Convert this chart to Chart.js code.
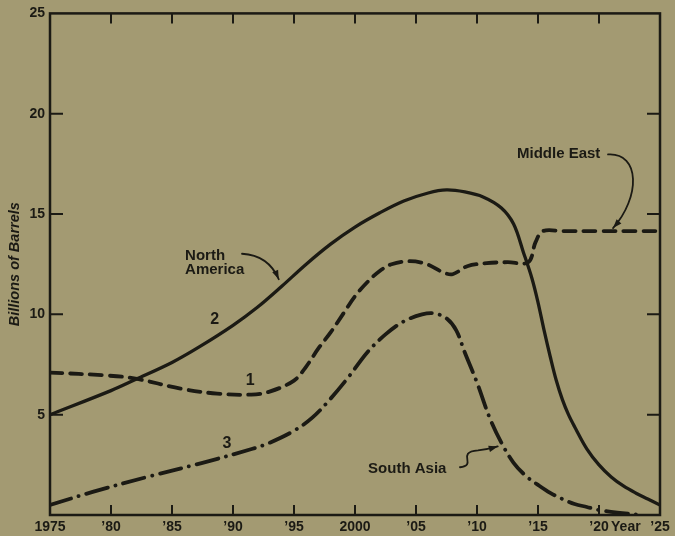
<!DOCTYPE html>
<html>
<head>
<meta charset="utf-8">
<script src="https://cdn.jsdelivr.net/npm/chart.js@4.4.1/dist/chart.umd.min.js"></script>
<style>
  html, body { margin: 0; padding: 0; background: #a39a72; }
  canvas { display: block; }
</style>
</head>
<body>
<canvas id="oil" width="675" height="536"></canvas>
<script>
// Projected production by region, billions of barrels
const northAmericaYears  = [1975, 1980, 1982, 1985, 1987.3, 1990, 1992, 1994, 1996, 1998, 2000, 2002, 2004, 2006, 2007.5, 2009, 2010.5, 2012, 2013, 2013.8, 2014.5, 2015, 2015.5, 2016, 2016.5, 2017, 2017.5, 2018, 2019, 2020, 2021, 2022, 2023, 2024, 2025];
const northAmericaValues = [5.0, 6.2, 6.75, 7.6, 8.4, 9.45, 10.35, 11.4, 12.5, 13.5, 14.35, 15.05, 15.65, 16.05, 16.2, 16.1, 15.85, 15.3, 14.5, 13.1, 11.8, 10.6, 9.2, 7.9, 6.7, 5.75, 5.0, 4.4, 3.3, 2.5, 1.9, 1.45, 1.1, 0.8, 0.5];

const middleEastYears  = [1975, 1979.7, 1982, 1985.7, 1988.7, 1991.5, 1993, 1995, 1996, 1997, 1998, 1999, 2000, 2001, 2002, 2003, 2004.5, 2005.9, 2007.2, 2008, 2009.2, 2010.8, 2012.5, 2014.2, 2014.8, 2015.4, 2017, 2020, 2023, 2025];
const middleEastValues = [7.1, 6.95, 6.8, 6.3, 6.05, 6.0, 6.15, 6.7, 7.4, 8.3, 9.1, 10.0, 10.9, 11.6, 12.15, 12.5, 12.65, 12.5, 12.1, 12.0, 12.4, 12.55, 12.6, 12.6, 13.6, 14.15, 14.15, 14.15, 14.15, 14.15];

const southAsiaYears  = [1975, 1978.5, 1983, 1987.5, 1991.6, 1993, 1995, 1996.5, 1998, 1999.5, 2001, 2002.5, 2004, 2005.5, 2006.5, 2007.5, 2008.3, 2009, 2010, 2011, 2012, 2013, 2014, 2015, 2016, 2017, 2018, 2019, 2020, 2021.5, 2023.5];
const southAsiaValues = [0.5, 1.15, 1.9, 2.6, 3.3, 3.6, 4.2, 4.85, 5.8, 6.9, 8.1, 9.0, 9.65, 10.0, 10.05, 9.8, 9.2, 8.1, 6.6, 4.9, 3.6, 2.6, 1.95, 1.5, 1.1, 0.8, 0.55, 0.4, 0.25, 0.12, 0.0];

const xTickYears  = [1975, 1980, 1985, 1990, 1995, 2000, 2005, 2010, 2015, 2020, 2025];
const xTickLabels = ['1975', '\u201980', '\u201985', '\u201990', '\u201995', '2000', '\u201905', '\u201910', '\u201915', '\u201920', '\u201925'];
const yTickValues = [5, 10, 15, 20, 25];

const INK = '#1b1a14';
const FONT = '"Liberation Sans", Arial, Helvetica, sans-serif';

function toPoints(xs, ys) {
  return xs.map((x, i) => ({ x: x, y: ys[i] }));
}

// Frame with inward tick marks, curve numbers and callouts
const framePlugin = {
  id: 'frameAndCallouts',
  afterDraw(chart) {
    const { ctx, chartArea: a, scales: { x, y } } = chart;
    const px = v => x.getPixelForValue(v);
    const py = v => y.getPixelForValue(v);
    ctx.save();
    ctx.strokeStyle = INK;
    ctx.fillStyle = INK;
    ctx.lineCap = 'butt';

    // frame
    ctx.lineWidth = 2.5;
    ctx.strokeRect(a.left, a.top, a.right - a.left, a.bottom - a.top);

    // tick marks pointing inwards
    ctx.lineWidth = 2;
    ctx.beginPath();
    xTickYears.forEach(v => {
      if (v <= x.min || v >= x.max) return;
      const X = px(v);
      ctx.moveTo(X, a.bottom); ctx.lineTo(X, a.bottom - 10);
      ctx.moveTo(X, a.top); ctx.lineTo(X, a.top + 10);
    });
    yTickValues.forEach(v => {
      if (v <= y.min || v >= y.max) return;
      const Y = py(v);
      ctx.moveTo(a.left, Y); ctx.lineTo(a.left + 13, Y);
      ctx.moveTo(a.right, Y); ctx.lineTo(a.right - 13, Y);
    });
    ctx.stroke();

    // "Year" beside the last tick labels
    ctx.font = 'bold 14px ' + FONT;
    ctx.textAlign = 'center';
    ctx.textBaseline = 'middle';
    ctx.fillText('Year', px(2022.2), a.bottom + 4 + 8.4);

    // curve numbers
    ctx.font = 'bold 16px ' + FONT;
    ctx.fillText('1', px(1991.4), py(6.68));
    ctx.fillText('2', px(1988.5), py(9.75));
    ctx.fillText('3', px(1989.5), py(3.56));

    // callout texts
    ctx.font = 'bold 15px ' + FONT;
    ctx.textAlign = 'left';
    ctx.textBaseline = 'alphabetic';
    ctx.fillText('North', px(1986.07), py(12.72));
    ctx.fillText('America', px(1986.07), py(12.02));
    ctx.fillText('Middle East', px(2013.28), py(17.8));
    ctx.fillText('South Asia', px(2001.07), py(2.1));

    // callout leaders
    ctx.lineWidth = 1.8;
    ctx.lineCap = 'round';
    function head(fx, fy, tx, ty) {
      const ang = Math.atan2(ty - fy, tx - fx);
      const L = 9, W = 3.2;
      ctx.beginPath();
      ctx.moveTo(tx, ty);
      ctx.lineTo(tx - L * Math.cos(ang) + W * Math.sin(ang), ty - L * Math.sin(ang) - W * Math.cos(ang));
      ctx.lineTo(tx - L * Math.cos(ang) - W * Math.sin(ang), ty - L * Math.sin(ang) + W * Math.cos(ang));
      ctx.closePath();
      ctx.fill();
    }

    // North America
    ctx.beginPath();
    ctx.moveTo(px(1990.74), py(13.02));
    ctx.quadraticCurveTo(px(1992.9), py(12.95), px(1993.75), py(11.75));
    ctx.stroke();
    head(px(1992.9), py(12.95), px(1993.75), py(11.75));

    // Middle East
    ctx.beginPath();
    ctx.moveTo(px(2020.74), py(17.97));
    ctx.bezierCurveTo(px(2023.4), py(18.07), px(2023.4), py(15.84), px(2021.15), py(14.3));
    ctx.stroke();
    head(px(2023.4), py(15.84), px(2021.15), py(14.3));

    // South Asia
    ctx.beginPath();
    ctx.moveTo(px(2008.6), py(2.38));
    ctx.bezierCurveTo(px(2010.1), py(2.48), px(2008.2), py(3.12), px(2010.08), py(3.22));
    ctx.quadraticCurveTo(px(2010.9), py(3.28), px(2011.7), py(3.42));
    ctx.stroke();
    head(px(2010.9), py(3.28), px(2011.7), py(3.42));

    ctx.restore();
  }
};

const lineBase = {
  borderColor: INK,
  pointRadius: 0,
  fill: false,
  tension: 0.35
};

new Chart(document.getElementById('oil'), {
  type: 'line',
  data: {
    datasets: [
      Object.assign({}, lineBase, {
        label: 'North America',
        data: toPoints(northAmericaYears, northAmericaValues),
        borderWidth: 3.3
      }),
      Object.assign({}, lineBase, {
        label: 'Middle East',
        data: toPoints(middleEastYears, middleEastValues),
        borderWidth: 3.8,
        borderDash: [12, 8],
        borderCapStyle: 'round'
      }),
      Object.assign({}, lineBase, {
        label: 'South Asia',
        data: toPoints(southAsiaYears, southAsiaValues),
        borderWidth: 3.8,
        borderDash: [22, 8, 0.1, 8],
        borderCapStyle: 'round'
      })
    ]
  },
  options: {
    responsive: false,
    animation: false,
    events: [],
    layout: { padding: { top: 13, right: 15, left: 0, bottom: 0 } },
    plugins: { legend: { display: false }, tooltip: { enabled: false } },
    scales: {
      x: {
        type: 'linear',
        min: 1975,
        max: 2025,
        afterBuildTicks: s => { s.ticks = xTickYears.map(v => ({ value: v })); },
        afterFit: s => { s.height = 21; },
        grid: { display: false, drawTicks: false },
        border: { display: false },
        ticks: {
          autoSkip: false,
          maxRotation: 0,
          padding: 4,
          color: INK,
          font: { family: FONT, size: 14, weight: 'bold' },
          callback: v => xTickLabels[xTickYears.indexOf(v)]
        }
      },
      y: {
        min: 0,
        max: 25,
        afterBuildTicks: s => { s.ticks = yTickValues.map(v => ({ value: v })); },
        afterFit: s => { s.width = 50; },
        grid: { display: false, drawTicks: false },
        border: { display: false },
        ticks: {
          padding: 5,
          color: INK,
          font: { family: FONT, size: 14, weight: 'bold' },
          callback: v => String(v)
        },
        title: {
          display: true,
          text: 'Billions of Barrels',
          color: INK,
          font: { family: FONT, size: 14.5, style: 'italic', weight: 'bold' },
          padding: { top: 6, bottom: 0 }
        }
      }
    }
  },
  plugins: [framePlugin]
});
</script>
</body>
</html>
